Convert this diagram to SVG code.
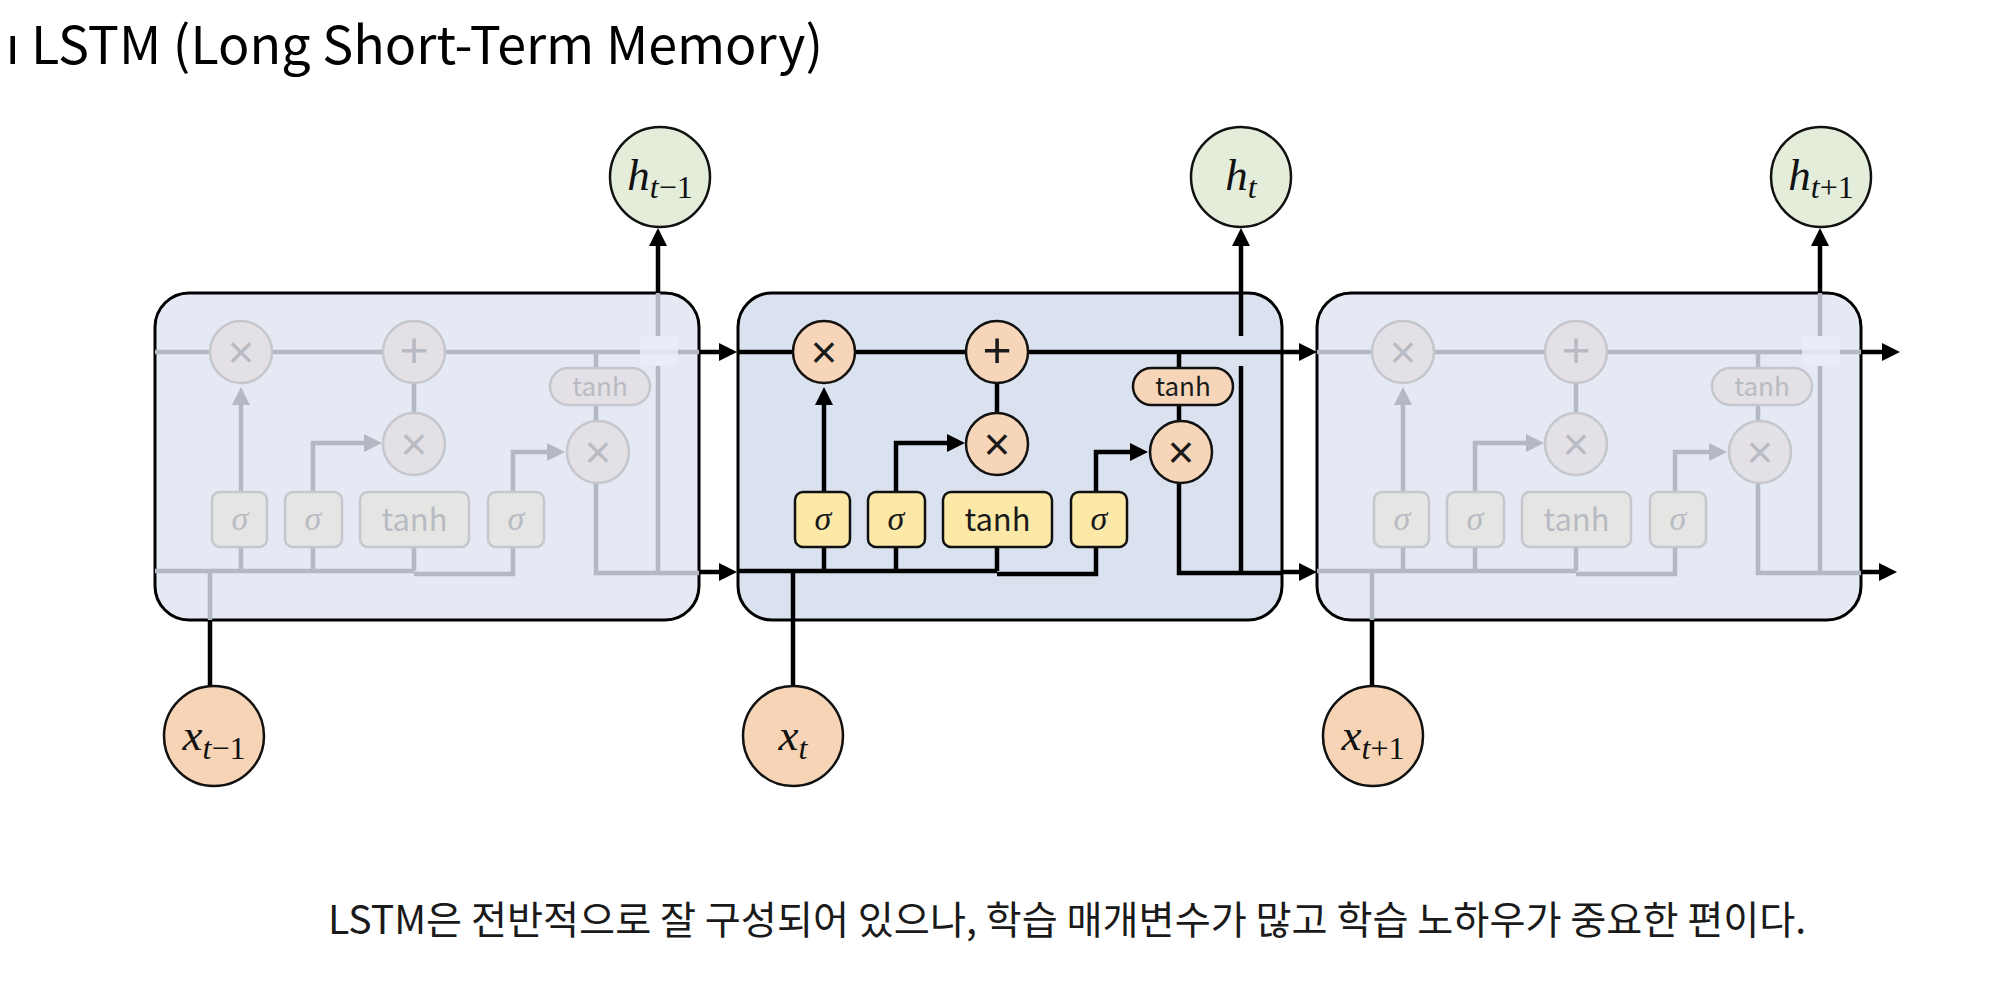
<svg xmlns="http://www.w3.org/2000/svg" width="1992" height="994" viewBox="0 0 1992 994">
<defs>
<marker id="ab" markerUnits="userSpaceOnUse" markerWidth="18" markerHeight="18" refX="8" refY="9" orient="auto"><path d="M0,0 L18,9 L0,18 Z" fill="#000"/></marker>
<marker id="ag" markerUnits="userSpaceOnUse" markerWidth="18" markerHeight="18" refX="8" refY="9" orient="auto"><path d="M0,0 L18,9 L0,18 Z" fill="#b3b8c4"/></marker>
<style>
.cell{stroke:#000;stroke-width:3}
.ln{fill:none;stroke-width:4.5}
.act .ln{stroke:#000}
.fad .ln{stroke:#b3b8c4}
.bl{fill:none;stroke:#000;stroke-width:4.5}
.act .op{fill:#f6d5b8;stroke:#111;stroke-width:2.5}
.fad .op{fill:#e3e1e6;stroke:#c5c7cd;stroke-width:2.5}
.act .gate{fill:#fce9a8;stroke:#111;stroke-width:2.5}
.fad .gate{fill:#e5e6e3;stroke:#c5c7cd;stroke-width:2.5}
.act .t{fill:#1a1a1a}
.fad .t{fill:#b8bbc3}
.sym{font-family:"Liberation Sans",Arial,sans-serif;text-anchor:middle;dominant-baseline:central}
.sg{font-family:"Liberation Serif",serif;font-style:italic;font-size:34px;text-anchor:middle}
.th{font-family:"Noto Sans CJK KR","Noto Sans",sans-serif;text-anchor:middle}
.math{font-family:"Liberation Serif",serif;font-size:45px;text-anchor:middle;fill:#111}
.io{stroke:#111;stroke-width:2.5}
.hc{fill:#e4edda}
.xc{fill:#f6d4b5}
</style>
</defs>
<rect width="1992" height="994" fill="#fff"/>
<text x="6" y="64" font-family="'Noto Sans CJK KR','Noto Sans',sans-serif" font-size="52" fill="#000">ı LSTM (Long Short-Term Memory)</text>

<g id="cell-prev" class="fad" transform="translate(155,0)">
<rect class="cell" x="0" y="293" width="544" height="327" rx="34" fill="#e5e9f4"/>
<path class="ln" d="M0,352 H544 M0,571 H259 M259,574 H358 V547 M86,571 V547 M158,571 V547 M259,571 V547 M259,413 V383 M441,352 V368 M441,405 V421 M441,483 V573 H544 M503,573 V366 M503,336 V293 M55,620 V571"/>
<path class="ln" d="M86,492 V397" marker-end="url(#ag)"/>
<path class="ln" d="M158,492 V443 H217" marker-end="url(#ag)"/>
<path class="ln" d="M358,492 V452 H400" marker-end="url(#ag)"/>
<rect x="485" y="336" width="38" height="29" fill="#e8edf7" opacity="0.8"/>
<circle class="op" cx="86" cy="352" r="31"/><text class="sym t" x="86" y="352" font-size="46">×</text>
<circle class="op" cx="259" cy="352" r="31"/><text class="sym t" x="259" y="350" font-size="50">+</text>
<circle class="op" cx="259" cy="444" r="31"/><text class="sym t" x="259" y="444" font-size="46">×</text>
<circle class="op" cx="443" cy="452" r="31"/><text class="sym t" x="443" y="452" font-size="46">×</text>
<rect class="op" x="395" y="368" width="100" height="37" rx="18.5"/><text class="th t" x="445" y="396" font-size="26">tanh</text>
<rect class="gate" x="57" y="492" width="55" height="55" rx="8"/><text class="sg t" x="85" y="530">σ</text>
<rect class="gate" x="130" y="492" width="57" height="55" rx="8"/><text class="sg t" x="158" y="530">σ</text>
<rect class="gate" x="205" y="492" width="109" height="55" rx="8"/><text class="th t" x="259.5" y="531" font-size="31">tanh</text>
<rect class="gate" x="333" y="492" width="56" height="55" rx="8"/><text class="sg t" x="361" y="530">σ</text>
</g>

<g id="cell-cur" class="act" transform="translate(738,0)">
<rect class="cell" x="0" y="293" width="544" height="327" rx="34" fill="#dbe2ef"/>
<path class="ln" d="M0,352 H544 M0,571 H259 M259,574 H358 V547 M86,571 V547 M158,571 V547 M259,571 V547 M259,413 V383 M441,352 V368 M441,405 V421 M441,483 V573 H544 M503,573 V366 M55,620 V571"/>
<path class="ln" d="M86,492 V397" marker-end="url(#ab)"/>
<path class="ln" d="M158,492 V443 H217" marker-end="url(#ab)"/>
<path class="ln" d="M358,492 V452 H400" marker-end="url(#ab)"/>
<circle class="op" cx="86" cy="352" r="31"/><text class="sym t" x="86" y="352" font-size="46">×</text>
<circle class="op" cx="259" cy="352" r="31"/><text class="sym t" x="259" y="350" font-size="50">+</text>
<circle class="op" cx="259" cy="444" r="31"/><text class="sym t" x="259" y="444" font-size="46">×</text>
<circle class="op" cx="443" cy="452" r="31"/><text class="sym t" x="443" y="452" font-size="46">×</text>
<rect class="op" x="395" y="368" width="100" height="37" rx="18.5"/><text class="th t" x="445" y="396" font-size="26">tanh</text>
<rect class="gate" x="57" y="492" width="55" height="55" rx="8"/><text class="sg t" x="85" y="530">σ</text>
<rect class="gate" x="130" y="492" width="57" height="55" rx="8"/><text class="sg t" x="158" y="530">σ</text>
<rect class="gate" x="205" y="492" width="109" height="55" rx="8"/><text class="th t" x="259.5" y="531" font-size="31">tanh</text>
<rect class="gate" x="333" y="492" width="56" height="55" rx="8"/><text class="sg t" x="361" y="530">σ</text>
</g>

<g id="cell-next" class="fad" transform="translate(1317,0)">
<rect class="cell" x="0" y="293" width="544" height="327" rx="34" fill="#e5e9f4"/>
<path class="ln" d="M0,352 H544 M0,571 H259 M259,574 H358 V547 M86,571 V547 M158,571 V547 M259,571 V547 M259,413 V383 M441,352 V368 M441,405 V421 M441,483 V573 H544 M503,573 V366 M503,336 V293 M55,620 V571"/>
<path class="ln" d="M86,492 V397" marker-end="url(#ag)"/>
<path class="ln" d="M158,492 V443 H217" marker-end="url(#ag)"/>
<path class="ln" d="M358,492 V452 H400" marker-end="url(#ag)"/>
<rect x="485" y="336" width="38" height="29" fill="#e8edf7" opacity="0.8"/>
<circle class="op" cx="86" cy="352" r="31"/><text class="sym t" x="86" y="352" font-size="46">×</text>
<circle class="op" cx="259" cy="352" r="31"/><text class="sym t" x="259" y="350" font-size="50">+</text>
<circle class="op" cx="259" cy="444" r="31"/><text class="sym t" x="259" y="444" font-size="46">×</text>
<circle class="op" cx="443" cy="452" r="31"/><text class="sym t" x="443" y="452" font-size="46">×</text>
<rect class="op" x="395" y="368" width="100" height="37" rx="18.5"/><text class="th t" x="445" y="396" font-size="26">tanh</text>
<rect class="gate" x="57" y="492" width="55" height="55" rx="8"/><text class="sg t" x="85" y="530">σ</text>
<rect class="gate" x="130" y="492" width="57" height="55" rx="8"/><text class="sg t" x="158" y="530">σ</text>
<rect class="gate" x="205" y="492" width="109" height="55" rx="8"/><text class="th t" x="259.5" y="531" font-size="31">tanh</text>
<rect class="gate" x="333" y="492" width="56" height="55" rx="8"/><text class="sg t" x="361" y="530">σ</text>
</g>

<g id="connectors">
<path class="bl" d="M699,352 H727" marker-end="url(#ab)"/>
<path class="bl" d="M699,572 H727" marker-end="url(#ab)"/>
<path class="bl" d="M1282,352 H1307" marker-end="url(#ab)"/>
<path class="bl" d="M1282,572 H1307" marker-end="url(#ab)"/>
<path class="bl" d="M1861,352 H1890" marker-end="url(#ab)"/>
<path class="bl" d="M1861,572 H1887" marker-end="url(#ab)"/>
<path class="bl" d="M658,293 V238" marker-end="url(#ab)"/>
<path class="bl" d="M1241,336 V238" marker-end="url(#ab)"/>
<path class="bl" d="M1820,293 V238" marker-end="url(#ab)"/>
<path class="bl" d="M210,620 V686"/>
<path class="bl" d="M793,620 V686"/>
<path class="bl" d="M1372,620 V686"/>
</g>

<g id="h-prev"><circle class="io hc" cx="660" cy="177" r="50"/><text class="math" x="660" y="190"><tspan font-style="italic">h</tspan><tspan font-style="italic" font-size="32" dy="8">t</tspan><tspan font-size="32">−1</tspan></text></g>
<g id="h-cur"><circle class="io hc" cx="1241" cy="177" r="50"/><text class="math" x="1241" y="190"><tspan font-style="italic">h</tspan><tspan font-style="italic" font-size="32" dy="8">t</tspan></text></g>
<g id="h-next"><circle class="io hc" cx="1821" cy="177" r="50"/><text class="math" x="1821" y="190"><tspan font-style="italic">h</tspan><tspan font-style="italic" font-size="32" dy="8">t</tspan><tspan font-size="32">+1</tspan></text></g>

<g id="x-prev"><circle class="io xc" cx="214" cy="736" r="50"/><text class="math" x="214" y="750"><tspan font-style="italic">x</tspan><tspan font-style="italic" font-size="32" dy="9">t</tspan><tspan font-size="32">−1</tspan></text></g>
<g id="x-cur"><circle class="io xc" cx="793" cy="736" r="50"/><text class="math" x="793" y="750"><tspan font-style="italic">x</tspan><tspan font-style="italic" font-size="32" dy="9">t</tspan></text></g>
<g id="x-next"><circle class="io xc" cx="1373" cy="736" r="50"/><text class="math" x="1373" y="750"><tspan font-style="italic">x</tspan><tspan font-style="italic" font-size="32" dy="9">t</tspan><tspan font-size="32">+1</tspan></text></g>

<text x="328" y="934" font-family="'Noto Sans CJK KR','Noto Sans',sans-serif" font-size="39.2" fill="#1a1a1a">LSTM은 전반적으로 잘 구성되어 있으나, 학습 매개변수가 많고 학습 노하우가 중요한 편이다.</text>
</svg>
